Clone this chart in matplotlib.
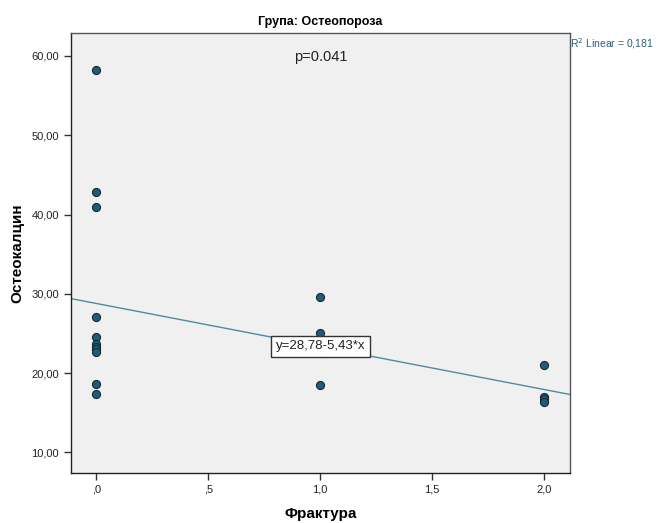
import matplotlib
matplotlib.use("Agg")
import matplotlib.pyplot as plt
import numpy as np
from matplotlib.ticker import FixedLocator, FuncFormatter

plt.rcParams['font.family'] = ['Liberation Sans', 'DejaVu Sans']

# Fracture group (0, 1, 2) and osteocalcin values
fracture = [0, 0, 0, 0, 0, 0, 0, 0, 0, 0, 0,
            1, 1, 1, 1,
            2, 2, 2, 2]
osteocalcin = [58.2, 42.8, 40.9, 27.1, 24.6, 23.7, 23.3, 23.0, 22.7, 18.6, 17.3,
               29.6, 25.1, 22.5, 18.5,
               21.0, 17.0, 16.7, 16.4]

# Linear fit reported for the group
intercept = 28.78
slope = -5.43
r_squared = 0.181
p_value = "0.041"

x_ticks = [0.0, 0.5, 1.0, 1.5, 2.0]
x_tick_labels = [",0", ",5", "1,0", "1,5", "2,0"]
y_ticks = [10, 20, 30, 40, 50, 60]

fig = plt.figure(figsize=(6.6, 5.23), dpi=100)
ax = fig.add_axes([71/660, 1 - 473/523, (570 - 71)/660, (473 - 33)/523])
ax.set_facecolor("#f0f0f0")

xlim = (-0.113, 2.115)
ylim = (7.39, 62.9)
ax.set_xlim(*xlim)
ax.set_ylim(*ylim)

# fit line across the full x range
xs = np.array(xlim)
ax.plot(xs, intercept + slope * xs, color="#4f8aa0", lw=1.0, zorder=2)

ax.scatter(fracture, osteocalcin, s=34, color="#1d5d78", edgecolor="#1a2a33",
           linewidth=0.8, zorder=3)

ax.xaxis.set_major_locator(FixedLocator(x_ticks))
ax.set_xticklabels(x_tick_labels)
ax.yaxis.set_major_locator(FixedLocator(y_ticks))
ax.yaxis.set_major_formatter(FuncFormatter(lambda v, p: f"{v:.2f}".replace(".", ",")))
ax.tick_params(axis="both", labelsize=8, length=5, width=1.0, color="#333333",
               labelcolor="#222222")

for s in ax.spines.values():
    s.set_color("#555555")
    s.set_linewidth(1.0)
ax.spines["left"].set_color("#222222")
ax.spines["bottom"].set_color("#222222")

ax.set_xlabel("Фрактура", fontsize=11, fontweight="bold", labelpad=9)
ax.set_ylabel("Остеокалцин", fontsize=11, fontweight="bold", labelpad=5)
ax.set_title("Група: Остеопороза", fontsize=9, fontweight="bold", pad=6)

ax.text(0.5, 0.945, "p=" + p_value, transform=ax.transAxes, ha="center",
        va="center", fontsize=10.5, color="#222222")

ax.text(1.0, 0.977, f"R$^2$ Linear = {r_squared:.3f}".replace(".", ","),
        transform=ax.transAxes, ha="left", va="center", fontsize=7.5,
        color="#2a5f78")

eq_x = 1.0
ax.text(eq_x, intercept + slope * eq_x, f"y={intercept:.2f}{slope:.2f}*x".replace(".", ","),
        ha="center", va="center", fontsize=9.5, color="#222222", zorder=4,
        bbox=dict(boxstyle="square,pad=0.35", fc="white", ec="#333333", lw=1.0))

fig.savefig("out.png", dpi=100, facecolor="white")
